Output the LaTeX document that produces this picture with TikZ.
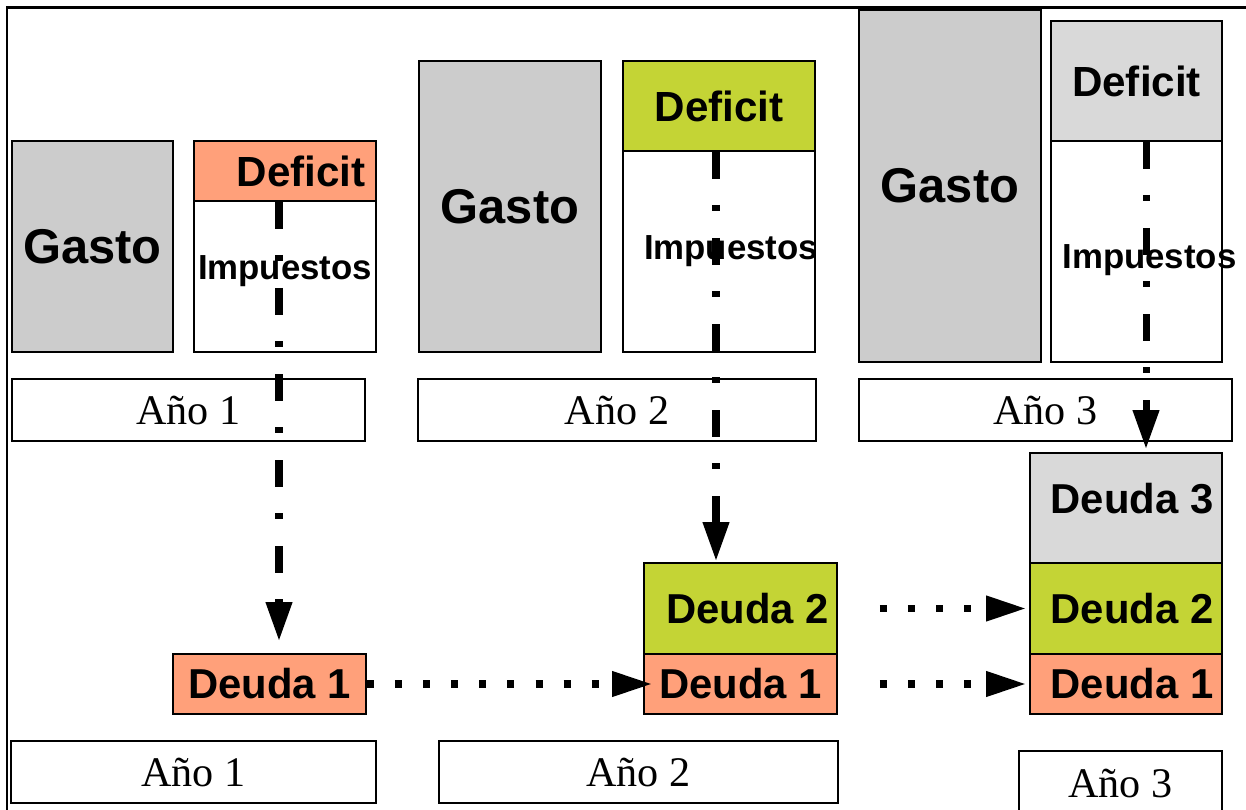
\documentclass[tikz,border=0pt]{standalone}
\usepackage{fontspec}
\setmainfont{Liberation Serif}
\setsansfont{Liberation Sans}
\usetikzlibrary{arrows.meta}
\usetikzlibrary{calc}
\definecolor{salmon}{HTML}{FFA07A}
\definecolor{lime}{HTML}{C4D435}
\definecolor{gastogray}{HTML}{CCCCCC}
\definecolor{lightgray}{HTML}{D9D9D9}

\begin{document}
\begin{tikzpicture}[
        x=0.02cm, y=-0.02cm,
        sz/.style 2 args={minimum width=#1*0.02cm, minimum height=#2*0.02cm},
        box/.style={draw, line width=1pt, inner sep=0pt},
        gasto/.style={box, fill=gastogray, font=\sffamily\bfseries\fontsize{27.8}{30}\selectfont},
        deficit/.style={box, font=\sffamily\bfseries\fontsize{24}{28}\selectfont},
        impuestos/.style={box, fill=white, font=\sffamily\bfseries\fontsize{19.8}{22}\selectfont},
        deuda/.style={box, font=\sffamily\bfseries\fontsize{23.8}{26}\selectfont},
        anio/.style={box, fill=white, font=\rmfamily\fontsize{24}{26}\selectfont},
        tax/.style={line width=4pt, dash pattern=on 15.4pt off 14.8pt on 3.4pt off 15.4pt,
            -{Triangle[length=0.78cm,width=0.5cm]}},
        flow/.style={line width=4pt, dash pattern=on 4pt off 12pt,
            -{Triangle[length=0.8cm,width=0.48cm]}}
    ]
    \useasboundingbox (0,0) rectangle (1246,810);
    % frame
    \draw[line width=1.7pt] (7,810) -- (7,8) -- (1246,8);

    % year 1
    \node[gasto, sz={161}{211}] (gas1) at (92.5,246.5) {Gasto};
    \node[deficit, fill=salmon, sz={182}{60}] (def1) at (285,171) {Deficit\hspace*{-0.64cm}};
    \node[impuestos, sz={182}{151}, text height=14.4pt, text depth=11pt] (imp1) at (285,276.5) {Impuestos};
    \node[anio, sz={353}{62}] (ano1) at (188.5,410) {Año 1};

    % year 2
    \node[gasto, sz={182}{291}] (gas2) at (510,206.5) {Gasto};
    \node[deficit, fill=lime, sz={192}{90}] (def2) at (719,106) {Deficit};
    \node[impuestos, sz={192}{201}] (imp2) at (719,251.5) {Impuestos\hspace*{-0.48cm}};
    \node[anio, sz={398}{62}] (ano2) at (617,410) {Año 2};

    % year 3
    \node[gasto, sz={182}{352}] (gas3) at (950,186) {Gasto};
    \node[deficit, fill=lightgray, sz={171}{120}] (def3) at (1136.5,81) {Deficit};
    \node[impuestos, sz={171}{221}, text height=23.5pt, text depth=4.2pt] (imp3) at (1136.5,251.5) {Impuestos\hspace*{-0.52cm}};
    \node[anio, sz={373}{62}] (ano3) at (1045.5,410) {Año 3};

    % debt stacks
    \node[deuda, fill=salmon, sz={193}{60}] (deu1a) at (269.5,684) {Deuda 1};

    \node[deuda, fill=lime, sz={193}{91}] (deu2b) at (740.5,608.5) {Deuda 2\hspace*{-0.28cm}};
    \node[deuda, fill=salmon, sz={193}{60}] (deu1b) at (740.5,684) {Deuda 1};

    \node[deuda, fill=lightgray, sz={192}{110}, text height=17.4pt, text depth=11.4pt] (deu3c) at (1126,508) {Deuda 3\hspace*{-0.24cm}};
    \node[deuda, fill=lime, sz={192}{91}] (deu2c) at (1126,608.5) {Deuda 2\hspace*{-0.24cm}};
    \node[deuda, fill=salmon, sz={192}{60}] (deu1c) at (1126,684) {Deuda 1\hspace*{-0.24cm}};

    \node[anio, sz={365}{62}] (anob1) at (193.5,772) {Año 1};
    \node[anio, sz={399}{62}] (anob2) at (638.5,772) {Año 2};
    \node[anio, sz={203}{64}] (anob3) at (1120.5,783) {Año 3};

    % deficit becomes debt
    \draw[tax, shorten >=0.24cm] ([xshift=-0.12cm]def1.south) -- ([xshift=-0.12cm]def1.south |- deu1a.north);
    \draw[tax, shorten >=0.02cm] ([xshift=-0.06cm]def2.south) -- ([xshift=-0.06cm]def2.south |- deu2b.north);
    \draw[tax, shorten >=0.06cm] ([xshift=0.19cm]def3.south) -- ([xshift=0.19cm]def3.south |- deu3c.north);

    % debt carried forward
    \draw[flow, shorten >=-0.18cm] (deu1a.east) -- (deu1b.west);
    \draw[flow, shorten <=0.84cm, shorten >=0.06cm] (deu1b.east) -- (deu1c.west);
    \draw[flow, shorten <=0.84cm, shorten >=0.06cm] (deu2b.east) -- (deu2c.west);
\end{tikzpicture}
\end{document}
